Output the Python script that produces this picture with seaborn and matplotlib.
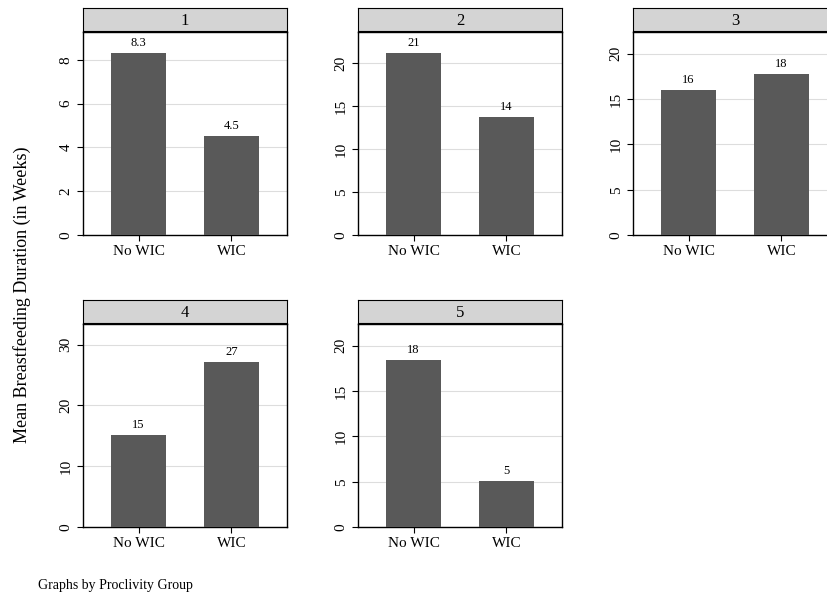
import matplotlib
matplotlib.use("Agg")
import matplotlib.pyplot as plt
import seaborn as sns
import pandas as pd

groups = ["1", "2", "3", "4", "5"]
categories = ["No WIC", "WIC"]
means = [[8.3, 4.5], [21.2, 13.7], [16.0, 17.8], [15.2, 27.2], [18.4, 5.1]]
labels = [["8.3", "4.5"], ["21", "14"], ["16", "18"], ["15", "27"], ["18", "5"]]
yticks = [[0, 2, 4, 6, 8], [0, 5, 10, 15, 20], [0, 5, 10, 15, 20], [0, 10, 20, 30], [0, 5, 10, 15, 20]]
ytops = [9.27, 23.6, 22.4, 33.4, 22.4]

sns.set_style("white")
plt.rcParams["font.family"] = ["Liberation Serif", "DejaVu Serif"]
plt.rcParams["text.color"] = "black"
plt.rcParams["xtick.color"] = "black"
plt.rcParams["ytick.color"] = "black"

W, H = 828, 601
fig = plt.figure(figsize=(W / 100, H / 100), dpi=100)

# panel positions in pixels: left, top of axes, bottom of axes
pos = [(83, 32, 235), (358, 32, 235), (633, 32, 235), (83, 324, 527), (358, 324, 527)]
pw = 204
for i, (g, (x0, top, bot)) in enumerate(zip(groups, pos)):
    ax = fig.add_axes([x0 / W, 1 - bot / H, pw / W, (bot - top) / H])
    df = pd.DataFrame({"cat": categories, "val": means[i]})
    sns.barplot(data=df, x="cat", y="val", color="#595959", width=0.6, saturation=1,
                edgecolor="none", linewidth=0, ax=ax, zorder=3)
    ax.set_xlim(-0.6, 1.6)
    ax.set_ylim(0, ytops[i])
    ax.set_yticks(yticks[i])
    ax.set_yticklabels([str(t) for t in yticks[i]], rotation=90, va="center", fontsize=11)
    ax.tick_params(axis="x", labelsize=11, length=4, bottom=True)
    ax.tick_params(axis="y", length=4, left=True)
    ax.set_xlabel("")
    ax.set_ylabel("")
    ax.yaxis.grid(True, color="#dddddd", lw=0.8, zorder=0)
    for s in ax.spines.values():
        s.set_color("black")
        s.set_linewidth(1)
    for j, v in enumerate(means[i]):
        ax.text(j, v + ytops[i] * 0.02, labels[i][j], ha="center", va="bottom", fontsize=9)
    # strip
    sax = fig.add_axes([x0 / W, 1 - (top - 1) / H, pw / W, 23 / H])
    sax.set_facecolor("#d4d4d4")
    sax.set_xticks([])
    sax.set_yticks([])
    for s in sax.spines.values():
        s.set_color("black")
    sax.text(0.5, 0.45, g, ha="center", va="center", fontsize=12, transform=sax.transAxes)

fig.text(22 / W, 0.51, "Mean Breastfeeding Duration (in Weeks)", rotation=90, ha="center", va="center", fontsize=13)
fig.text(38 / W, 1 - 585 / H, "Graphs by Proclivity Group", ha="left", va="center", fontsize=10)

fig.savefig("out.png", dpi=100, facecolor="white")
